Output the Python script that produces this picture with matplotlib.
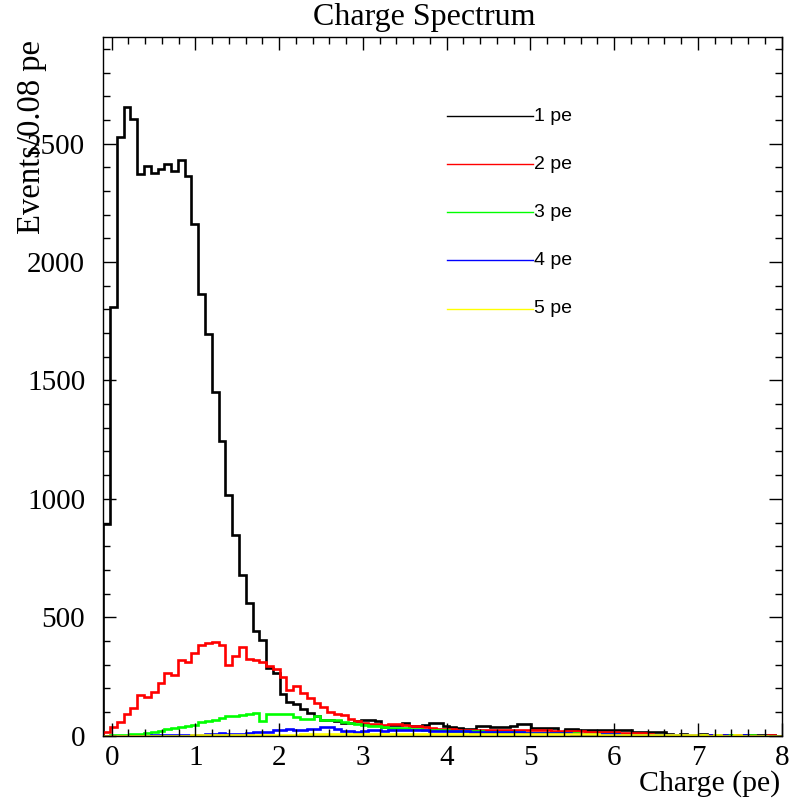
import numpy as np
import matplotlib
matplotlib.use("Agg")
import matplotlib.pyplot as plt
from matplotlib.lines import Line2D
from matplotlib.ticker import MultipleLocator

# 100 bins from -0.1 to 8.0 pe
x_lo, x_hi, n_bins = -0.1, 8.0, 100

pe1 = [895, 1810, 2530, 2655, 2605, 2370, 2405, 2375, 2395, 2415,
       2385, 2430, 2365, 2160, 1865, 1695, 1450, 1245, 1015, 848,
       680, 560, 440, 405, 287, 265, 176, 142, 134, 113,
       94, 83, 66, 66, 62, 55, 55, 62, 64, 66,
       60, 35, 45, 45, 52, 41, 41, 45, 52, 52,
       41, 35, 30, 27, 27, 41, 41, 35, 35, 35,
       41, 49, 49, 31, 31, 31, 31, 17, 27, 27,
       22, 22, 22, 22, 22, 22, 24, 24, 17, 17,
       17, 17, 17, 5, 4, 6, 3, 4, 5, 2,
       3, 4, 2, 1, 3, 2, 1, 2, 1, 0]
pe2 = [14, 35, 56, 91, 116, 171, 164, 185, 224, 264,
       255, 319, 312, 347, 383, 392, 397, 381, 300, 337,
       373, 325, 320, 312, 295, 280, 246, 192, 211, 182,
       159, 136, 122, 98, 91, 88, 70, 60, 52, 50,
       47, 45, 48, 48, 45, 42, 40, 35, 30, 27,
       27, 26, 24, 24, 24, 24, 25, 24, 24, 24,
       23, 22, 22, 22, 22, 22, 21, 21, 20, 20,
       18, 17, 17, 16, 15, 14, 12, 10, 10, 9,
       6, 4, 3, 3, 2, 3, 2, 1, 2, 1,
       1, 1, 0, 1, 0, 1, 0, 0, 1, 0]
pe3 = [0, 1, 3, 4, 5, 6, 10, 14, 18, 27,
       33, 37, 42, 46, 58, 62, 64, 76, 82, 84,
       87, 93, 94, 62, 93, 90, 92, 91, 80, 72,
       70, 82, 66, 66, 64, 58, 54, 50, 45, 42,
       40, 38, 34, 32, 30, 28, 27, 25, 24, 23,
       22, 21, 20, 20, 19, 18, 17, 17, 16, 15,
       15, 14, 13, 13, 12, 11, 10, 10, 9, 9,
       8, 7, 7, 6, 5, 5, 4, 4, 3, 3,
       3, 2, 2, 2, 1, 2, 1, 1, 1, 0,
       1, 0, 1, 0, 0, 1, 0, 0, 0, 0]
pe4 = [0, 0, 0, 0, 0, 0, 0, 1, 1, 1,
       2, 2, 3, 3, 4, 6, 7, 10, 7, 8,
       8, 10, 14, 17, 17, 22, 24, 28, 24, 24,
       28, 28, 35, 35, 28, 21, 21, 16, 21, 24,
       22, 20, 22, 24, 25, 24, 22, 22, 21, 20,
       20, 19, 18, 18, 17, 17, 16, 16, 15, 15,
       14, 14, 13, 12, 12, 11, 10, 10, 9, 8,
       8, 7, 6, 6, 5, 5, 4, 4, 3, 3,
       2, 2, 2, 1, 1, 2, 1, 1, 0, 1,
       0, 1, 0, 0, 1, 0, 0, 0, 0, 0]
pe5 = [0, 0, 0, 0, 0, 0, 0, 0, 0, 0,
       0, 0, 0, 1, 1, 1, 1, 1, 2, 2,
       2, 2, 3, 3, 3, 3, 3, 4, 4, 5,
       5, 5, 6, 6, 6, 7, 7, 7, 7, 8,
       8, 8, 8, 8, 8, 8, 8, 8, 8, 8,
       8, 8, 8, 8, 8, 8, 7, 8, 7, 7,
       7, 7, 7, 7, 6, 6, 6, 6, 6, 5,
       5, 5, 5, 4, 4, 4, 3, 3, 3, 2,
       2, 2, 2, 1, 1, 1, 1, 1, 1, 0,
       1, 0, 0, 1, 0, 0, 0, 0, 0, 0]

labels = ["1 pe", "2 pe", "3 pe", "4 pe", "5 pe"]
colors = ["#000000", "#ff0000", "#00ff00", "#0000ff", "#ffff00"]

serif = "Liberation Serif"
sans = "Liberation Sans"

edges = np.linspace(x_lo, x_hi, n_bins + 1)

fig = plt.figure(figsize=(8.02, 8.02), dpi=100)
ax = fig.add_axes([103.3 / 802, 1 - 735.6 / 802, (781.7 - 103.3) / 802, (735.6 - 36.7) / 802])

for vals, c in zip([pe1, pe2, pe3, pe4, pe5], colors):
    ax.stairs(vals, edges, baseline=0, color=c, lw=1.9)

ax.set_xlim(x_lo, x_hi)
ax.set_ylim(0, 2952)
ax.xaxis.set_major_locator(MultipleLocator(1))
ax.xaxis.set_minor_locator(MultipleLocator(0.2))
ax.yaxis.set_major_locator(MultipleLocator(500))
ax.yaxis.set_minor_locator(MultipleLocator(100))
ax.tick_params(which="both", direction="in", top=True, right=True, width=1)
ax.tick_params(which="major", length=9.5)
ax.tick_params(which="minor", length=5)
ax.tick_params(axis="x", pad=7)
ax.tick_params(axis="y", pad=13)
for t in ax.get_xticklabels() + ax.get_yticklabels():
    t.set_fontfamily(serif)
    t.set_fontsize(21)
for s in ax.spines.values():
    s.set_linewidth(1.0)

fig.text(424 / 802, 1 - 17 / 802, "Charge Spectrum", family=serif, size=23,
         ha="center", va="center")
fig.text(780 / 802, 1 - 791 / 802, "Charge (pe)", family=serif, size=21.5,
         ha="right", va="baseline")
fig.text(32 / 802, 1 - 40 / 802, "Events/0.08 pe", family=serif, size=23.5,
         ha="center", va="top", rotation=90)

handles = [Line2D([], [], color=c, lw=1) for c in colors]
leg = ax.legend(handles, labels, loc="upper left",
                bbox_to_anchor=(447 / 802, 1 - 108 / 802), bbox_transform=fig.transFigure,
                frameon=False, handlelength=4.4, handleheight=0.05, handletextpad=0.05,
                labelspacing=1.6, borderpad=0, borderaxespad=0,
                prop={"family": sans, "size": 14})

fig.savefig("out.png", dpi=100)
